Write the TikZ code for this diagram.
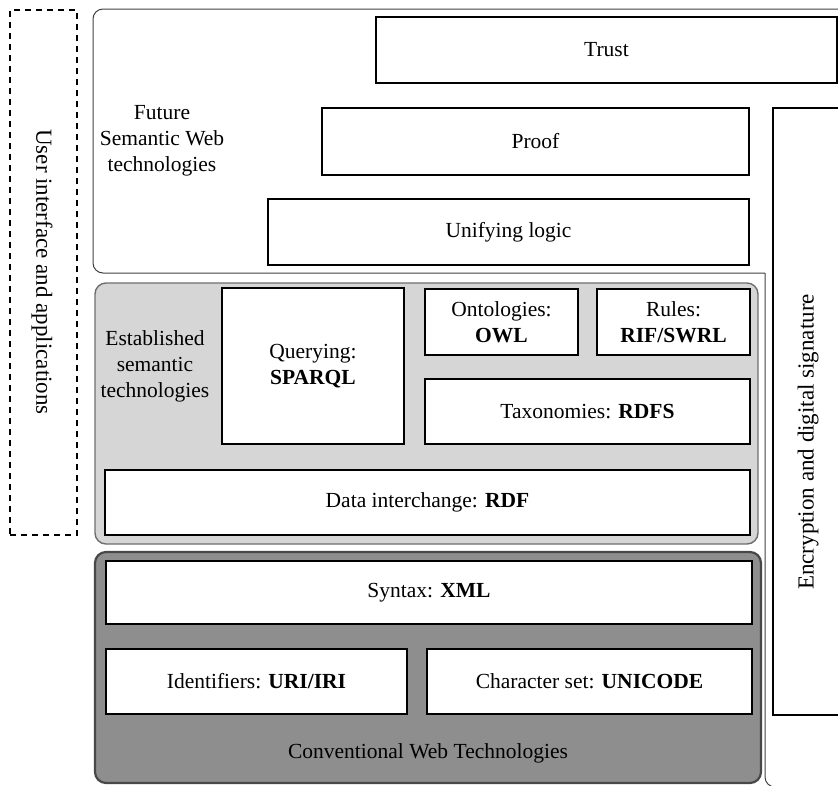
\documentclass[tikz,border=0pt]{standalone}
\usepackage{fontspec}
\setmainfont{Liberation Serif}
\definecolor{estfill}{HTML}{D6D6D6}
\definecolor{estline}{HTML}{6E6E6E}
\definecolor{convfill}{HTML}{8E8E8E}
\definecolor{convline}{HTML}{484848}
\definecolor{frameline}{HTML}{404040}
% a layer box given by its corners (x1,y1) (x2,y2)
\newcommand\layerbox[7][]{%
  \node[box,#1, minimum width={(#5-#3)*1pt}, minimum height={(#6-#4)*1pt}]
    (#2) at ({(#3+#5)/2},{(#4+#6)/2}) {#7};}
\begin{document}
\begin{tikzpicture}[x=1pt,y=-1pt,
  every node/.style={font=\fontsize{21.5}{26}\selectfont, align=center, inner sep=0pt},
  box/.style={draw=black, line width=1.5pt, fill=white},
  region/.style={rounded corners=11pt},
  vtext/.style={font=\fontsize{23}{27}\selectfont}]
\useasboundingbox (0,0) rectangle (838,785);
\clip (0,0) rectangle (838,785);

% outer frame of the stack
\draw[frameline, line width=1pt]
  (765,273) [rounded corners=10pt] -- (93,273) -- (93,9) -- (860,9)
  -- (860,787) -- (765,787) -- (765,273);

% user interface column
\node[draw=black, dash pattern=on 6pt off 5pt, line width=1.3pt,
      minimum width=67pt, minimum height=525pt] (uibox) at (43.5,272.5) {};
\node[vtext, rotate=-90] (ui) at (42,272) {User interface and applications};

% encryption column
\node[draw=black, line width=1.3pt, fill=white, minimum width=90pt,
      minimum height=607pt] (enc) at (818,411.5) {};
\node[vtext, rotate=90] (enctext) at (808,442) {Encryption and digital signature};

% future semantic web technologies
\node (future) at (162,141) {Future\\Semantic Web\\technologies};
\layerbox{trust}{376}{17}{837}{83}{Trust}
\layerbox{proof}{322}{108}{749}{175}{Proof}
\layerbox{logic}{268}{199}{749}{265}{Unifying logic}

% established semantic technologies
\node[region, fill=estfill, draw=estline, line width=1.4pt,
      minimum width=663pt, minimum height=261pt] (established) at (426.5,413.5) {};
\node (esttext) at (155,366) {Established\\semantic\\technologies};
\layerbox{query}{222}{288}{404}{444}{Querying:\\\textbf{SPARQL}}
\layerbox{onto}{425}{289}{578}{355}{Ontologies:\\\textbf{OWL}}
\layerbox{rules}{597}{289}{750}{355}{Rules:\\\textbf{RIF/SWRL}}
\layerbox{taxo}{425}{379}{750}{444}{Taxonomies: \textbf{RDFS}}
\layerbox{rdf}{105}{470}{750}{535}{Data interchange: \textbf{RDF}}

% conventional web technologies
\node[region, fill=convfill, draw=convline, line width=2.2pt,
      minimum width=666pt, minimum height=231pt] (conventional) at (428,667.5) {};
\layerbox{xml}{106}{561}{752}{624}{Syntax: \textbf{XML}}
\layerbox{uri}{106}{649}{407}{714}{Identifiers: \textbf{URI/IRI}}
\layerbox{unicode}{427}{649}{752}{714}{Character set: \textbf{UNICODE}}
\node (convtext) at (428,753) {Conventional Web Technologies};
\end{tikzpicture}
\end{document}
